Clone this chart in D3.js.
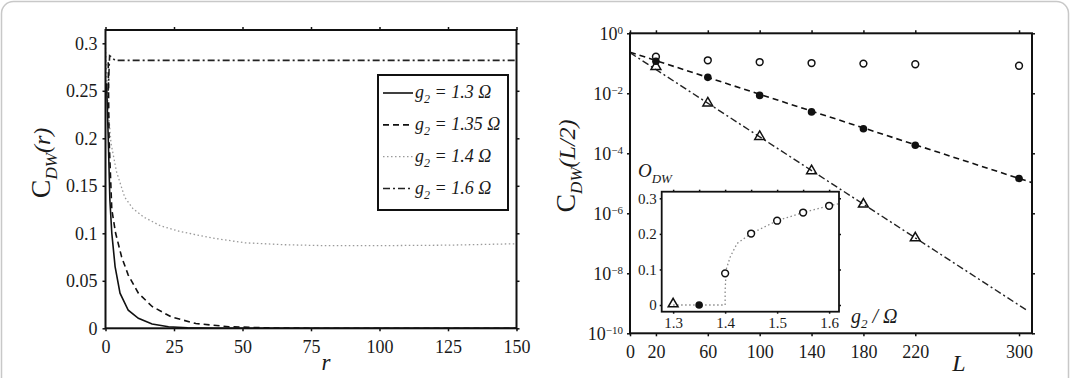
<!DOCTYPE html>
<html>
<head>
<meta charset="utf-8">
<script src="https://cdn.jsdelivr.net/npm/d3@7"></script>
<style>
  body { margin: 0; background: #fff; }
  svg text { font-family: "Liberation Serif", Tinos, "Times New Roman", "DejaVu Serif", serif; fill: #1a1a1a; }
</style>
</head>
<body>
<svg id="chart" width="1071" height="378"></svg>
<script>
// ---- left panel: C_DW(r) against r, points are [r, C]
const rTicks = [0, 25, 50, 75, 100, 125, 150];
const cTicks = [0, 0.05, 0.1, 0.15, 0.2, 0.25, 0.3];
const curve130 = [[0.4,0.258],[1,0.2],[1.6,0.135],[2.3,0.1],[3.5,0.065],[5.3,0.037],[8.3,0.019],[12,0.0105],[17,0.0045],[23,0.0017],[30,0.0005],[40,0.0001],[60,0],[150,0]];
const curve135 = [[1,0.28],[1.3,0.2],[2.3,0.125],[3.7,0.1],[5.9,0.075],[8.3,0.056],[12,0.037],[17,0.023],[24,0.012],[33,0.005],[45,0.0017],[60,0.0004],[80,0],[150,0]];
const curve140 = [[0,0.295],[1,0.23],[2,0.195],[4,0.165],[7,0.138],[10,0.126],[14,0.117],[20,0.108],[27,0.102],[39,0.095],[51,0.09],[65,0.088],[80,0.087],[100,0.087],[125,0.0875],[150,0.089]];
const curve160 = [[1,0.25],[1.5,0.287],[2,0.286],[3.5,0.282],[150,0.282]];
const legendLabels = ["1.3", "1.35", "1.4", "1.6"];

// ---- right panel: C_DW(L/2) against L (log scale)
const lTicks = [0, 20, 60, 100, 140, 180, 220, 300];
const logExps = [0, -2, -4, -6, -8, -10];
const sizesL = [20, 60, 100, 140, 180, 220, 300];
const open160 = [0.166, 0.126, 0.110, 0.102, 0.098, 0.093, 0.083];
const filled135 = [0.117, 0.034, 0.0085, 0.0024, 6.6e-4, 1.86e-4, 1.45e-5];
const tri130 = [0.078, 0.0047, 3.6e-4, 2.6e-5, 2.0e-6, 1.5e-7];
const fit135 = [[0, 0.235], [310, 1.05e-5]];
const fit130 = [[0, 0.226], [307, 5.5e-10]];

// ---- inset: O_DW against g2
const g2Vals = [1.3, 1.35, 1.4, 1.45, 1.5, 1.55, 1.6];
const orderVals = [0, 0, 0.089, 0.201, 0.237, 0.26, 0.279];
const g2Ticks = [1.3, 1.35, 1.4, 1.45, 1.5, 1.55, 1.6];
const g2Labels = [1.3, 1.4, 1.5, 1.6];
const oTicks = [0, 0.1, 0.2, 0.3];
const orderGuide = [[1.3,0],[1.4,0],[1.4,0.04],[1.402,0.1],[1.41,0.136],[1.423,0.173],[1.45,0.201],[1.5,0.237],[1.55,0.26],[1.6,0.279],[1.619,0.285]];

const SERIF = '"Liberation Serif", Tinos, "Times New Roman", "DejaVu Serif", serif';
const svg = d3.select("#chart");

// faint rounded panel border
svg.append("rect")
  .attr("x", 1.5).attr("y", 1.5).attr("width", 1067).attr("height", 430)
  .attr("rx", 12)
  .attr("fill", "none").attr("stroke", "#c8c8c8").attr("stroke-width", 1.5);

function styleAxis(g, fs) {
  g.attr("font-family", SERIF);
  g.select(".domain").remove();
  g.selectAll(".tick line").attr("stroke", "#111").attr("stroke-width", 1.5);
  g.selectAll(".tick text").attr("font-size", fs).attr("fill", "#1a1a1a")
    .style("font-family", SERIF);
}

// ================= LEFT PANEL =================
const x1 = d3.scaleLinear().domain([0, 150]).range([105.5, 516.5]);
const y1 = d3.scaleLinear().domain([0, 0.314]).range([328.3, 30]);

svg.append("g").attr("transform", `translate(0,${y1.range()[0]})`)
  .call(d3.axisBottom(x1).tickValues(rTicks).tickSize(3).tickSizeOuter(0).tickPadding(9))
  .call(g => styleAxis(g, 18));
svg.append("g").attr("transform", `translate(0,${y1.range()[1]})`)
  .call(d3.axisTop(x1).tickValues(rTicks).tickSize(3).tickSizeOuter(0).tickFormat(""))
  .call(g => styleAxis(g, 18));
svg.append("g").attr("transform", `translate(${x1.range()[0]},0)`)
  .call(d3.axisLeft(y1).tickValues(cTicks).tickSize(3).tickSizeOuter(0).tickPadding(5)
    .tickFormat(d => String(d)))
  .call(g => styleAxis(g, 18));
svg.append("g").attr("transform", `translate(${x1.range()[1]},0)`)
  .call(d3.axisRight(y1).tickValues(cTicks).tickSize(3).tickSizeOuter(0).tickFormat(""))
  .call(g => styleAxis(g, 18));

const line1 = d3.line().x(d => x1(d[0])).y(d => y1(d[1]));
const leftSeries = [
  { data: curve140, dash: "1.5,2.5", color: "#9a9a9a", w: 1.3 },
  { data: curve160, dash: "7,3,2,3", color: "#222", w: 1.6 },
  { data: curve135, dash: "6,4", color: "#111", w: 1.6 },
  { data: curve130, dash: null, color: "#111", w: 1.6 }
];
svg.append("g").selectAll("path").data(leftSeries).join("path")
  .attr("d", d => line1(d.data))
  .attr("fill", "none")
  .attr("stroke", d => d.color)
  .attr("stroke-width", d => d.w)
  .attr("stroke-dasharray", d => d.dash);

svg.append("rect")
  .attr("x", x1.range()[0]).attr("y", y1.range()[1])
  .attr("width", x1.range()[1] - x1.range()[0]).attr("height", y1.range()[0] - y1.range()[1])
  .attr("fill", "none").attr("stroke", "#111").attr("stroke-width", 2);

// legend
const legendStyles = [leftSeries[3], leftSeries[2], leftSeries[0], leftSeries[1]];
const lg = svg.append("g");
lg.append("rect").attr("x", 378).attr("y", 75).attr("width", 130).attr("height", 135)
  .attr("fill", "#fff").attr("stroke", "#111").attr("stroke-width", 2);
const rowY = d3.scalePoint().domain(legendLabels).range([93, 188.5]);
legendLabels.forEach((lab, i) => {
  const s = legendStyles[i];
  const yy = rowY(lab);
  lg.append("line").attr("x1", 383).attr("x2", 413).attr("y1", yy).attr("y2", yy)
    .attr("stroke", s.color).attr("stroke-width", s.w).attr("stroke-dasharray", s.dash);
  const t = lg.append("text").attr("x", 415).attr("y", yy + 5).attr("font-size", 18)
    .attr("font-style", "italic");
  t.append("tspan").text("g");
  t.append("tspan").attr("font-size", 12).attr("dy", 5).text("2");
  t.append("tspan").attr("dy", -5).text(" = " + lab + " Ω");
});

// axis titles
svg.append("text").attr("x", 326).attr("y", 370).attr("text-anchor", "middle")
  .attr("font-size", 23).attr("font-style", "italic").text("r");
const yt1 = svg.append("text").attr("transform", "translate(50,163) rotate(-90)")
  .attr("text-anchor", "middle").attr("font-style", "italic");
yt1.append("tspan").attr("font-size", 28).attr("font-style", "normal").text("C");
yt1.append("tspan").attr("font-size", 17).attr("dy", 7).text("DW");
yt1.append("tspan").attr("font-size", 24).attr("dy", -7).text("(r)");

// ================= RIGHT PANEL =================
const x2 = d3.scaleLinear().domain([0, 310]).range([630, 1032]);
const y2 = d3.scaleLog().domain([1e-10, 1]).range([333.3, 33.3]);
const logVals = logExps.map(e => Math.pow(10, e));

svg.append("g").attr("transform", `translate(0,${y2.range()[0]})`)
  .call(d3.axisBottom(x2).tickValues(lTicks).tickSize(3).tickSizeOuter(0).tickPadding(9))
  .call(g => styleAxis(g, 18));
svg.append("g").attr("transform", `translate(0,${y2.range()[1]})`)
  .call(d3.axisTop(x2).tickValues(lTicks).tickSize(3).tickSizeOuter(0).tickFormat(""))
  .call(g => styleAxis(g, 18));
svg.append("g").attr("transform", `translate(${x2.range()[0]},0)`)
  .call(d3.axisLeft(y2).tickValues(logVals).tickSize(3).tickSizeOuter(0).tickPadding(4).tickFormat(() => "10"))
  .call(g => styleAxis(g, 18))
  .call(g => g.selectAll(".tick text").each(function(d, i) {
    const e = Math.round(Math.log10(d));
    d3.select(this).append("tspan").attr("dy", "-0.55em").attr("font-size", 11)
      .text(e === 0 ? "0" : "\u2212" + Math.abs(e));
  }));
svg.append("g").attr("transform", `translate(${x2.range()[1]},0)`)
  .call(d3.axisRight(y2).tickValues(logVals).tickSize(3).tickSizeOuter(0).tickFormat(""))
  .call(g => styleAxis(g, 18));

const line2 = d3.line().x(d => x2(d[0])).y(d => y2(d[1]));
svg.append("path").attr("d", line2(fit135)).attr("fill", "none")
  .attr("stroke", "#111").attr("stroke-width", 1.6).attr("stroke-dasharray", "6,4");
svg.append("path").attr("d", line2(fit130)).attr("fill", "none")
  .attr("stroke", "#222").attr("stroke-width", 1.4).attr("stroke-dasharray", "7,3,2,3");

const triPath = d3.symbol().type(d3.symbolTriangle).size(42);
svg.append("g").selectAll("path").data(tri130).join("path")
  .attr("transform", (d, i) => `translate(${x2(sizesL[i])},${y2(d)})`)
  .attr("d", triPath).attr("fill", "none").attr("stroke", "#111").attr("stroke-width", 1.5);
svg.append("g").selectAll("circle").data(filled135).join("circle")
  .attr("cx", (d, i) => x2(sizesL[i])).attr("cy", d => y2(d)).attr("r", 3.8)
  .attr("fill", "#111");
svg.append("g").selectAll("circle").data(open160).join("circle")
  .attr("cx", (d, i) => x2(sizesL[i])).attr("cy", d => y2(d)).attr("r", 3.4)
  .attr("fill", "none").attr("stroke", "#111").attr("stroke-width", 1.5);

svg.append("rect")
  .attr("x", x2.range()[0]).attr("y", y2.range()[1])
  .attr("width", x2.range()[1] - x2.range()[0]).attr("height", y2.range()[0] - y2.range()[1])
  .attr("fill", "none").attr("stroke", "#111").attr("stroke-width", 2);

svg.append("text").attr("x", 959).attr("y", 371).attr("text-anchor", "middle")
  .attr("font-size", 24).attr("font-style", "italic").text("L");
const yt2 = svg.append("text").attr("transform", "translate(575,166) rotate(-90)")
  .attr("text-anchor", "middle").attr("font-style", "italic");
yt2.append("tspan").attr("font-size", 28).attr("font-style", "normal").text("C");
yt2.append("tspan").attr("font-size", 17).attr("dy", 7).text("DW");
yt2.append("tspan").attr("font-size", 24).attr("dy", -7).text("(L/2)");

// ================= INSET =================
const x3 = d3.scaleLinear().domain([1.278, 1.619]).range([661.7, 839]);
const y3 = d3.scaleLinear().domain([-0.0188, 0.3186]).range([311.7, 191.7]);

svg.append("rect")
  .attr("x", x3.range()[0]).attr("y", y3.range()[1])
  .attr("width", x3.range()[1] - x3.range()[0]).attr("height", y3.range()[0] - y3.range()[1])
  .attr("fill", "#fff").attr("stroke", "none");

svg.append("g").attr("transform", `translate(0,${y3.range()[1]})`)
  .call(d3.axisTop(x3).tickValues(g2Ticks).tickSize(2).tickSizeOuter(0).tickFormat(""))
  .call(g => styleAxis(g, 15));
svg.append("g").attr("transform", `translate(0,${y3.range()[0]})`)
  .call(d3.axisBottom(x3).tickValues(g2Labels).tickSize(2).tickSizeOuter(0).tickPadding(4)
    .tickFormat(d3.format(".1f")))
  .call(g => styleAxis(g, 15));
svg.append("g").attr("transform", `translate(${x3.range()[0]},0)`)
  .call(d3.axisLeft(y3).tickValues(oTicks).tickSize(2).tickSizeOuter(0).tickPadding(3)
    .tickFormat(d => String(d)))
  .call(g => styleAxis(g, 15));
svg.append("g").attr("transform", `translate(${x3.range()[1]},0)`)
  .call(d3.axisRight(y3).tickValues(oTicks).tickSize(2).tickSizeOuter(0).tickFormat(""))
  .call(g => styleAxis(g, 15));

const line3 = d3.line().x(d => x3(d[0])).y(d => y3(d[1]));
svg.append("path").attr("d", line3(orderGuide)).attr("fill", "none")
  .attr("stroke", "#8a8a8a").attr("stroke-width", 1.3).attr("stroke-dasharray", "1.5,2.5");

const insetPts = g2Vals.map((g, i) => ({ g, o: orderVals[i], kind: i === 0 ? "tri" : i === 1 ? "fill" : "open" }));
svg.append("g").selectAll("path").data(insetPts.filter(p => p.kind === "tri")).join("path")
  .attr("transform", d => `translate(${x3(d.g)},${y3(d.o) - 1})`)
  .attr("d", triPath).attr("fill", "none").attr("stroke", "#111").attr("stroke-width", 1.5);
svg.append("g").selectAll("circle").data(insetPts.filter(p => p.kind !== "tri")).join("circle")
  .attr("cx", d => x3(d.g)).attr("cy", d => y3(d.o))
  .attr("r", d => d.kind === "fill" ? 3.8 : 3.4)
  .attr("fill", d => d.kind === "fill" ? "#111" : "#fff")
  .attr("stroke", "#111").attr("stroke-width", d => d.kind === "fill" ? 0 : 1.5);

svg.append("rect")
  .attr("x", x3.range()[0]).attr("y", y3.range()[1])
  .attr("width", x3.range()[1] - x3.range()[0]).attr("height", y3.range()[0] - y3.range()[1])
  .attr("fill", "none").attr("stroke", "#111").attr("stroke-width", 1.8);

const ot = svg.append("text").attr("x", 638).attr("y", 177).attr("font-style", "italic");
ot.append("tspan").attr("font-size", 19).text("O");
ot.append("tspan").attr("font-size", 13).attr("dy", 6).text("DW");
const gt = svg.append("text").attr("x", 851).attr("y", 323).attr("font-style", "italic");
gt.append("tspan").attr("font-size", 20).text("g");
gt.append("tspan").attr("font-size", 13).attr("dy", 5).text("2");
gt.append("tspan").attr("font-size", 20).attr("dy", -5).text(" / Ω");
</script>
</body>
</html>
